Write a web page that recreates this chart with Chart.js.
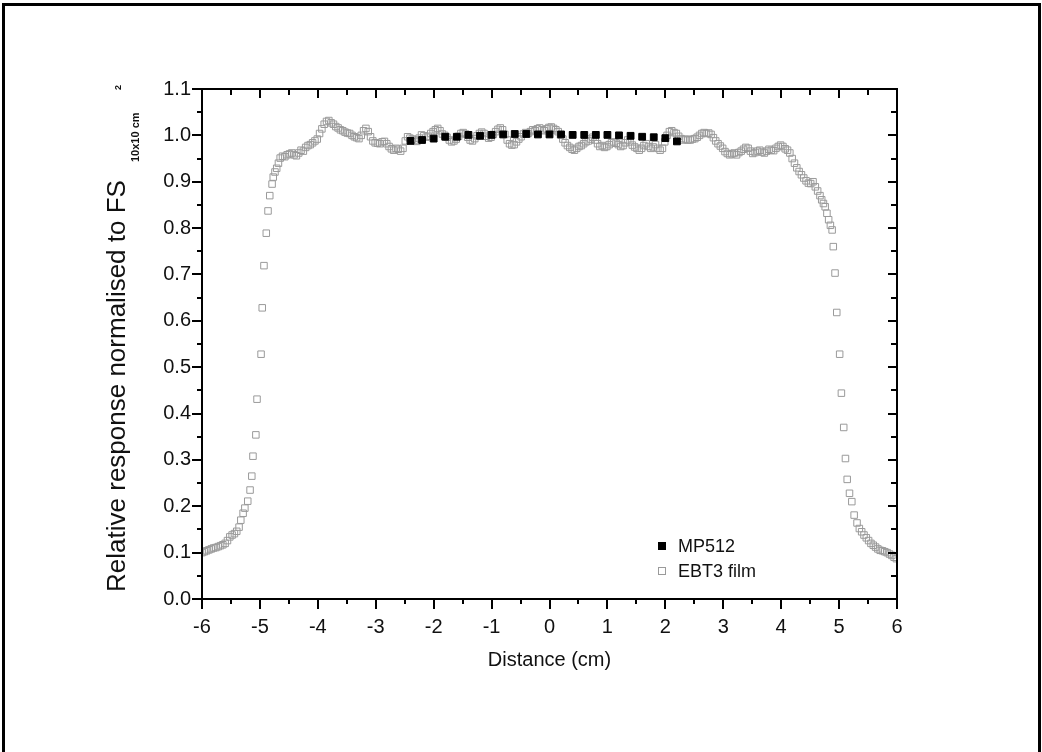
<!DOCTYPE html>
<html>
<head>
<meta charset="utf-8">
<title>Relative response profile</title>
<script src="https://cdn.jsdelivr.net/npm/chart.js@4.4.0/dist/chart.umd.min.js"></script>
<style>
  html, body { margin: 0; padding: 0; background: #fff; }
  #wrap { position: relative; width: 1042px; height: 752px; }
</style>
</head>
<body>
<div id="wrap"><canvas id="profileChart"></canvas></div>
<script>
// EBT3 film profile (cm, relative response)
const filmX = [
  -6.00, -5.96, -5.92, -5.88, -5.84, -5.80, -5.76, -5.72, -5.68, -5.64,
  -5.60, -5.56, -5.52, -5.48, -5.44, -5.40, -5.36, -5.33, -5.29, -5.26,
  -5.21, -5.17, -5.14, -5.12, -5.07, -5.05, -4.98, -4.96, -4.93, -4.89,
  -4.86, -4.83, -4.79, -4.77, -4.74, -4.71, -4.68, -4.65, -4.61, -4.57,
  -4.53, -4.49, -4.45, -4.41, -4.37, -4.33, -4.29, -4.25, -4.21, -4.17,
  -4.13, -4.09, -4.05, -4.01, -3.97, -3.93, -3.89, -3.85, -3.81, -3.77,
  -3.73, -3.69, -3.65, -3.61, -3.57, -3.53, -3.49, -3.45, -3.41, -3.37,
  -3.33, -3.29, -3.25, -3.21, -3.17, -3.13, -3.09, -3.05, -3.01, -2.97,
  -2.93, -2.89, -2.85, -2.81, -2.77, -2.73, -2.69, -2.65, -2.61, -2.57,
  -2.53, -2.49, -2.45, -2.41, -2.37, -2.33, -2.29, -2.25, -2.21, -2.17,
  -2.13, -2.09, -2.05, -2.01, -1.97, -1.93, -1.89, -1.85, -1.81, -1.77,
  -1.73, -1.69, -1.65, -1.61, -1.57, -1.53, -1.49, -1.45, -1.41, -1.37,
  -1.33, -1.29, -1.25, -1.21, -1.17, -1.13, -1.09, -1.05, -1.01, -0.97,
  -0.93, -0.89, -0.85, -0.81, -0.77, -0.73, -0.69, -0.65, -0.61, -0.57,
  -0.53, -0.49, -0.45, -0.41, -0.37, -0.33, -0.29, -0.25, -0.21, -0.17,
  -0.13, -0.09, -0.05, -0.01, 0.03, 0.07, 0.11, 0.15, 0.19, 0.23,
  0.27, 0.31, 0.35, 0.39, 0.43, 0.47, 0.51, 0.55, 0.59, 0.63,
  0.67, 0.71, 0.75, 0.79, 0.83, 0.87, 0.91, 0.95, 0.99, 1.03,
  1.07, 1.11, 1.15, 1.19, 1.23, 1.27, 1.31, 1.35, 1.39, 1.43,
  1.47, 1.51, 1.55, 1.59, 1.63, 1.67, 1.71, 1.75, 1.79, 1.83,
  1.87, 1.91, 1.95, 1.99, 2.03, 2.07, 2.11, 2.15, 2.19, 2.23,
  2.27, 2.31, 2.35, 2.39, 2.43, 2.47, 2.51, 2.55, 2.59, 2.63,
  2.67, 2.71, 2.75, 2.79, 2.83, 2.87, 2.91, 2.95, 2.99, 3.03,
  3.07, 3.11, 3.15, 3.19, 3.23, 3.27, 3.31, 3.35, 3.39, 3.43,
  3.47, 3.51, 3.55, 3.59, 3.63, 3.67, 3.71, 3.75, 3.79, 3.83,
  3.87, 3.91, 3.95, 3.99, 4.03, 4.07, 4.11, 4.15, 4.19, 4.23,
  4.27, 4.31, 4.35, 4.39, 4.43, 4.47, 4.51, 4.55, 4.59, 4.63,
  4.67, 4.70, 4.73, 4.76, 4.79, 4.82, 4.85, 4.88, 4.90, 4.93,
  4.96, 5.01, 5.04, 5.08, 5.11, 5.14, 5.18, 5.22, 5.26, 5.31,
  5.35, 5.39, 5.43, 5.47, 5.51, 5.55, 5.59, 5.63, 5.67, 5.71,
  5.75, 5.79, 5.83, 5.87, 5.91, 5.95, 5.99
];
const filmY = [
  0.100, 0.102, 0.104, 0.106, 0.108, 0.110, 0.111, 0.113, 0.115, 0.117,
  0.120, 0.126, 0.134, 0.138, 0.141, 0.146, 0.155, 0.170, 0.185, 0.196,
  0.211, 0.235, 0.265, 0.308, 0.354, 0.431, 0.528, 0.628, 0.719, 0.789,
  0.837, 0.870, 0.895, 0.910, 0.921, 0.929, 0.940, 0.951, 0.955, 0.954,
  0.958, 0.960, 0.962, 0.958, 0.956, 0.962, 0.968, 0.966, 0.974, 0.978,
  0.980, 0.984, 0.988, 0.992, 1.004, 1.014, 1.024, 1.030, 1.032, 1.027,
  1.024, 1.019, 1.016, 1.012, 1.010, 1.007, 1.005, 1.004, 1.000, 0.997,
  0.995, 0.993, 1.000, 1.010, 1.015, 1.008, 0.997, 0.988, 0.984, 0.983,
  0.982, 0.986, 0.987, 0.982, 0.976, 0.971, 0.968, 0.972, 0.970, 0.966,
  0.972, 0.988, 0.997, 0.994, 0.992, 0.990, 0.987, 0.994, 1.001, 0.999,
  0.996, 0.998, 1.004, 1.008, 1.012, 1.015, 1.010, 1.003, 1.000, 0.996,
  0.990, 0.986, 0.988, 0.992, 0.998, 1.004, 1.006, 1.003, 0.996, 0.990,
  0.988, 0.993, 0.999, 1.004, 1.007, 1.004, 0.998, 0.994, 0.996, 1.002,
  1.008, 1.013, 1.016, 1.012, 1.002, 0.990, 0.982, 0.979, 0.980, 0.986,
  0.992, 0.997, 1.003, 1.006, 1.004, 1.008, 1.012, 1.010, 1.014, 1.016,
  1.012, 1.010, 1.014, 1.017, 1.018, 1.015, 1.012, 1.008, 1.001, 0.992,
  0.984, 0.978, 0.974, 0.970, 0.968, 0.972, 0.976, 0.978, 0.982, 0.986,
  0.988, 0.992, 0.996, 0.990, 0.982, 0.976, 0.978, 0.974, 0.976, 0.980,
  0.984, 0.986, 0.983, 0.980, 0.976, 0.978, 0.984, 0.990, 0.986, 0.979,
  0.975, 0.972, 0.968, 0.972, 0.978, 0.982, 0.976, 0.972, 0.975, 0.980,
  0.972, 0.968, 0.972, 0.986, 1.000, 1.008, 1.010, 1.006, 1.004, 0.998,
  0.993, 0.990, 0.992, 0.990, 0.990, 0.992, 0.993, 0.996, 1.000, 1.004,
  1.006, 1.004, 1.005, 1.002, 0.995, 0.988, 0.982, 0.977, 0.972, 0.965,
  0.961, 0.958, 0.960, 0.962, 0.958, 0.963, 0.966, 0.970, 0.974, 0.972,
  0.966, 0.961, 0.963, 0.966, 0.968, 0.964, 0.962, 0.966, 0.970, 0.968,
  0.967, 0.972, 0.976, 0.979, 0.976, 0.971, 0.968, 0.962, 0.950, 0.940,
  0.930, 0.922, 0.915, 0.908, 0.902, 0.897, 0.896, 0.900, 0.889, 0.880,
  0.870, 0.861, 0.853, 0.846, 0.832, 0.818, 0.806, 0.796, 0.760, 0.703,
  0.618, 0.528, 0.444, 0.370, 0.303, 0.258, 0.228, 0.210, 0.181, 0.164,
  0.152, 0.145, 0.138, 0.132, 0.126, 0.120, 0.116, 0.112, 0.108, 0.105,
  0.104, 0.102, 0.100, 0.097, 0.094, 0.090, 0.087
];

// MP512 detector
const mp512X = [-2.4, -2.2, -2.0, -1.8, -1.6, -1.4, -1.2, -1.0, -0.8, -0.6, -0.4, -0.2,
                0.0, 0.2, 0.4, 0.6, 0.8, 1.0, 1.2, 1.4, 1.6, 1.8, 2.0, 2.2];
const mp512Y = [0.988, 0.990, 0.993, 0.997, 0.997, 1.001, 0.999, 1.001, 1.002, 1.003, 1.003, 1.002,
                1.002, 1.002, 1.001, 1.001, 1.001, 1.001, 1.000, 0.999, 0.997, 0.996, 0.994, 0.987];

const seriesNames = ["MP512", "EBT3 film"];
const xTitle = "Distance (cm)";
const yTitleMain = "Relative response normalised to FS";
const yTitleSub = "10x10 cm";
const yTitleSup = "2";

const FONT = '"Liberation Sans", Arial, sans-serif';

const toPoints = (xs, ys) => xs.map((x, i) => ({ x: x, y: ys[i] }));

// frame, minor ticks, axis titles and legend drawn on the canvas
const decorPlugin = {
  id: "decor",
  beforeDraw(chart) {
    const ctx = chart.ctx;
    ctx.save();
    ctx.fillStyle = "#fff";
    ctx.fillRect(0, 0, chart.width, chart.height);
    ctx.strokeStyle = "#000";
    ctx.lineWidth = 3;
    ctx.beginPath();
    ctx.moveTo(3.5, chart.height);
    ctx.lineTo(3.5, 4.5);
    ctx.lineTo(1039.5, 4.5);
    ctx.lineTo(1039.5, chart.height);
    ctx.stroke();
    ctx.restore();
  },
  afterDraw(chart) {
    const { ctx, chartArea: a, scales } = chart;
    const x = scales.x, y = scales.y;
    const xMajor = x.ticks.map((t) => t.value);
    const yMajor = y.ticks.map((t) => t.value);
    const mids = (v) => v.slice(1).map((t, i) => (t + v[i]) / 2);

    ctx.save();
    ctx.strokeStyle = "#000";
    ctx.lineWidth = 2;
    ctx.beginPath();
    xMajor.forEach((v) => {
      const p = Math.round(x.getPixelForValue(v));
      ctx.moveTo(p, a.bottom); ctx.lineTo(p, a.bottom + 10);
      ctx.moveTo(p, a.top); ctx.lineTo(p, a.top + 9);
    });
    mids(xMajor).forEach((v) => {
      const p = Math.round(x.getPixelForValue(v));
      ctx.moveTo(p, a.bottom); ctx.lineTo(p, a.bottom + 5);
      ctx.moveTo(p, a.top); ctx.lineTo(p, a.top + 6);
    });
    yMajor.forEach((v) => {
      const p = Math.round(y.getPixelForValue(v));
      ctx.moveTo(a.left - 10, p); ctx.lineTo(a.left, p);
      ctx.moveTo(a.right, p); ctx.lineTo(a.right - 9, p);
    });
    mids(yMajor).forEach((v) => {
      const p = Math.round(y.getPixelForValue(v));
      ctx.moveTo(a.left - 5, p); ctx.lineTo(a.left, p);
      ctx.moveTo(a.right, p); ctx.lineTo(a.right - 6, p);
    });
    ctx.stroke();
    ctx.strokeRect(a.left, a.top, a.right - a.left, a.bottom - a.top);

    // x axis title
    ctx.fillStyle = "#111";
    ctx.textAlign = "center";
    ctx.textBaseline = "middle";
    ctx.font = "20px " + FONT;
    ctx.fillText(xTitle, (a.left + a.right) / 2, 660);

    // y axis title with subscript and superscript
    ctx.save();
    ctx.translate(125, 597);
    ctx.rotate(-Math.PI / 2);
    ctx.textBaseline = "alphabetic";
    ctx.textAlign = "center";
    ctx.font = "26px " + FONT;
    ctx.fillText(yTitleMain, 211, 0);
    ctx.textAlign = "left";
    ctx.font = "bold 11px " + FONT;
    ctx.fillText(yTitleSub, 435, 14);
    ctx.font = "bold 9px " + FONT;
    ctx.fillText(yTitleSup, 507, -4);
    ctx.restore();

    // legend
    const ds = chart.data.datasets;
    const legendX = 662, legendY = [546, 571];
    ctx.font = "18px " + FONT;
    ctx.textAlign = "left";
    ctx.textBaseline = "middle";
    ds.forEach((d, i) => {
      const cy = legendY[i];
      ctx.lineWidth = 1;
      ctx.fillStyle = d.backgroundColor;
      ctx.strokeStyle = d.borderColor;
      ctx.fillRect(legendX - 3.5, cy - 3.5, 7, 7);
      ctx.strokeRect(legendX - 3.5, cy - 3.5, 7, 7);
      ctx.fillStyle = "#111";
      ctx.fillText(d.label, 678, cy + 1);
    });
    ctx.restore();
  }
};

const ctx = document.getElementById("profileChart").getContext("2d");
const chart = new Chart(ctx, {
  type: "scatter",
  data: {
    datasets: [
      {
        label: seriesNames[0],
        data: toPoints(mp512X, mp512Y),
        pointStyle: "rect",
        pointRadius: 4.8,
        backgroundColor: "#000",
        borderColor: "#000",
        borderWidth: 1,
      },
      {
        label: seriesNames[1],
        data: toPoints(filmX, filmY),
        pointStyle: "rect",
        pointRadius: 4.6,
        backgroundColor: "rgba(255,255,255,0)",
        borderColor: "#9a9a9a",
        borderWidth: 1,
      },
    ],
  },
  options: {
    responsive: true,
    maintainAspectRatio: false,
    animation: false,
    layout: { padding: { top: 89, right: 145, bottom: 0, left: 0 } },
    plugins: {
      legend: { display: false },
      tooltip: { enabled: false },
    },
    scales: {
      x: {
        type: "linear",
        min: -6,
        max: 6,
        grid: { display: false, drawTicks: true, tickLength: 10 },
        border: { display: false },
        ticks: {
          stepSize: 1,
          padding: 6,
          color: "#111",
          font: { family: FONT, size: 20 },
          maxRotation: 0,
        },
        afterFit: (s) => { s.height = 153; },
      },
      y: {
        type: "linear",
        min: 0,
        max: 1.1,
        grid: { display: false, drawTicks: true, tickLength: 10 },
        border: { display: false },
        ticks: {
          stepSize: 0.1,
          padding: 1,
          color: "#111",
          font: { family: FONT, size: 20 },
          callback: (v) => v.toFixed(1),
        },
        afterFit: (s) => { s.width = 202; },
      },
    },
  },
  plugins: [decorPlugin],
});
</script>
</body>
</html>
